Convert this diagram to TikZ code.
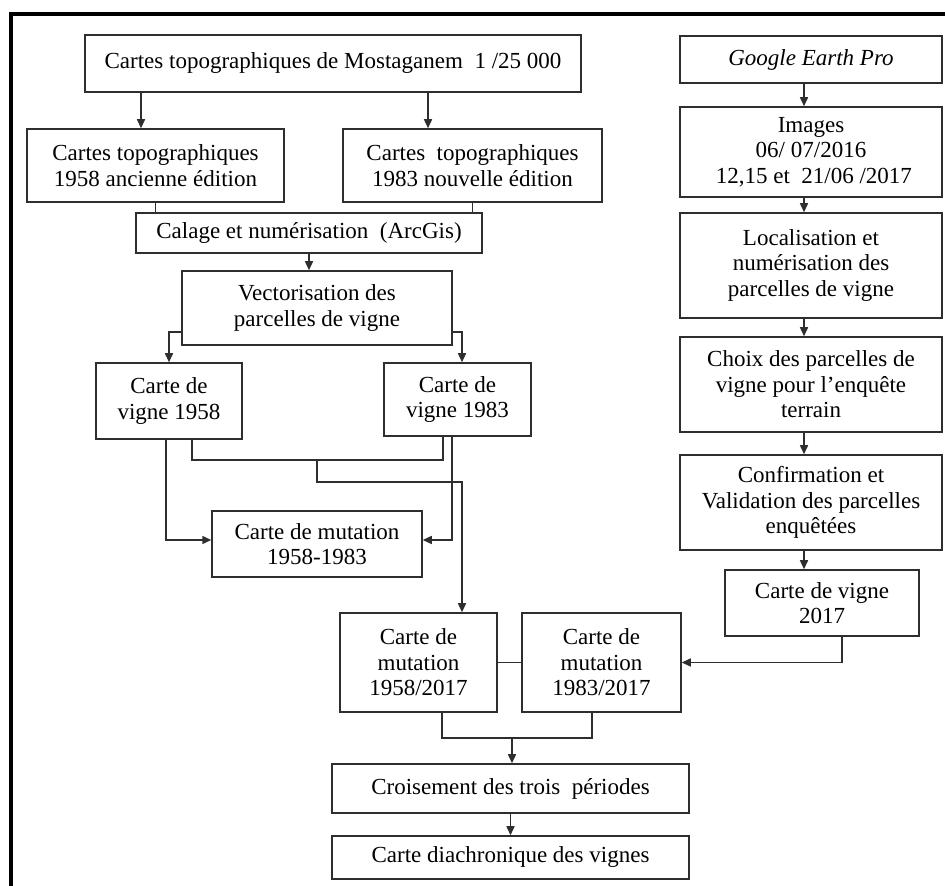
\documentclass[tikz,border=0pt]{standalone}
\usepackage{fontspec}
\setmainfont{Liberation Serif}
\usetikzlibrary{arrows.meta,positioning}
\definecolor{encre}{HTML}{2E2E2E}
\tikzset{
  boite/.style={rectangle, draw=encre, line width=1.5pt, fill=white, text=black,
    font=\fontsize{23}{25.5}\selectfont, align=center, inner sep=0pt},
  fleche/.style={-{Triangle[length=9pt,width=8pt]}, encre, line width=1.5pt},
  lien/.style={encre, line width=1.5pt}
}

\begin{document}
\begin{tikzpicture}[x=1pt,y=1pt]
  \useasboundingbox (0,0) rectangle (945,886);
  % cadre
  \draw[line width=4pt] (11,0) -- (11,871.5) -- (945,871.5);

  % cartes topographiques
  \node[boite,minimum width=496pt,minimum height=57pt] (topo) at (333,822.5) {Cartes topographiques de Mostaganem~ 1 /25 000};
  \node[boite,minimum width=257pt,minimum height=73pt] (topo58) at (155.5,720.5) {Cartes topographiques\\1958 ancienne édition};
  \node[boite,minimum width=259pt,minimum height=73pt] (topo83) at (472.5,720.5) {Cartes~ topographiques\\1983 nouvelle édition};
  \node[boite,minimum width=346pt,minimum height=40pt] (calage) at (309,653) {Calage et numérisation~ (ArcGis)};
  \node[boite,minimum width=270pt,minimum height=74pt] (vecto) at (317,578) {Vectorisation des\\parcelles de vigne};
  \node[boite,minimum width=146pt,minimum height=76pt] (vigne58) at (169,485) {Carte de\\vigne 1958};
  \node[boite,minimum width=147pt,minimum height=73pt] (vigne83) at (457.5,486.5) {Carte de\\vigne 1983};
  \node[boite,minimum width=210pt,minimum height=66pt] (mut5883) at (317,342) {Carte de mutation\\1958-1983};

  % images satellites
  \node[boite,minimum width=262pt,minimum height=47pt] (google) at (811,826.5) {\textit{Google Earth Pro}};
  \node[boite,minimum width=262pt,minimum height=90pt] (images) at (811,734) {Images\\06/ 07/2016\\~12,15 et~ 21/06 /2017};
  \node[boite,minimum width=262pt,minimum height=105pt] (locali) at (811,620.5) {Localisation et\\numérisation des\\parcelles de vigne};
  \node[boite,minimum width=262pt,minimum height=95pt] (choix) at (811,501.5) {Choix des parcelles de\\vigne pour l’enquête\\terrain};
  \node[boite,minimum width=262pt,minimum height=95pt] (confirm) at (811,383.5) {Confirmation et\\Validation des parcelles\\enquêtées};
  \node[boite,minimum width=194pt,minimum height=66pt] (v2017) at (822,283) {Carte de vigne\\2017};

  % mutations et synthese
  \node[boite,minimum width=157pt,minimum height=99pt] (mut58) at (418.5,223.5) {Carte de\\mutation\\1958/2017};
  \node[boite,minimum width=159pt,minimum height=99pt] (mut83) at (601.5,223.5) {Carte de\\mutation\\1983/2017};
  \node[boite,minimum width=357pt,minimum height=49pt] (crois) at (510.5,97.5) {Croisement des trois~ périodes};
  \node[boite,minimum width=357pt,minimum height=43pt] (diachro) at (510.5,28.5) {Carte diachronique des vignes};

  \coordinate (j1) at (317,426);
  \coordinate (j2) at (462,404);
  \coordinate (j3) at (512,148);

  % liaisons
  \draw[fleche] ([xshift=-192pt]topo.south) -- ([xshift=-14.5pt]topo58.north);
  \draw[fleche] ([xshift=95pt]topo.south) -- ([xshift=-44.5pt]topo83.north);
  \draw[lien] (topo58.south) -- (topo58.south |- calage.north);
  \draw[lien] (topo83.south) -- (topo83.south |- calage.north);
  \draw[fleche] (calage.south) -- (calage.south |- vecto.north);
  \draw[fleche] ([yshift=-24pt]vecto.west) -| (vigne58.north);
  \draw[fleche] ([yshift=-24pt]vecto.east) -| ([xshift=4.5pt]vigne83.north);
  \draw[fleche] ([xshift=-3pt]vigne58.south) |- ([yshift=4pt]mut5883.west);
  \draw[fleche] ([xshift=-5.5pt]vigne83.south) |- ([yshift=4pt]mut5883.east);
  \draw[lien] ([xshift=23pt]vigne58.south) |- (j1) -| ([xshift=-14.5pt]vigne83.south);
  \draw[fleche] (j1) |- (j2) -- (j2 |- mut58.north);
  \foreach \a/\b in {google/images,images/locali,locali/choix,choix/confirm}
    \draw[fleche] ([xshift=-7pt]\a.south) -- ([xshift=-7pt]\b.north);
  \draw[fleche] ([xshift=-7pt]confirm.south) -- ([xshift=-7pt]confirm.south |- v2017.north);
  \draw[fleche] ([xshift=20pt]v2017.south) |- (mut83.east);
  \draw[lien] (mut58.east) -- (mut83.west);
  \draw[lien] ([xshift=23.5pt]mut58.south) |- (j3) -| ([xshift=-9.5pt]mut83.south);
  \draw[fleche] (j3) -- (j3 |- crois.north);
  \draw[fleche] (crois.south) -- (diachro.north);
\end{tikzpicture}
\end{document}
